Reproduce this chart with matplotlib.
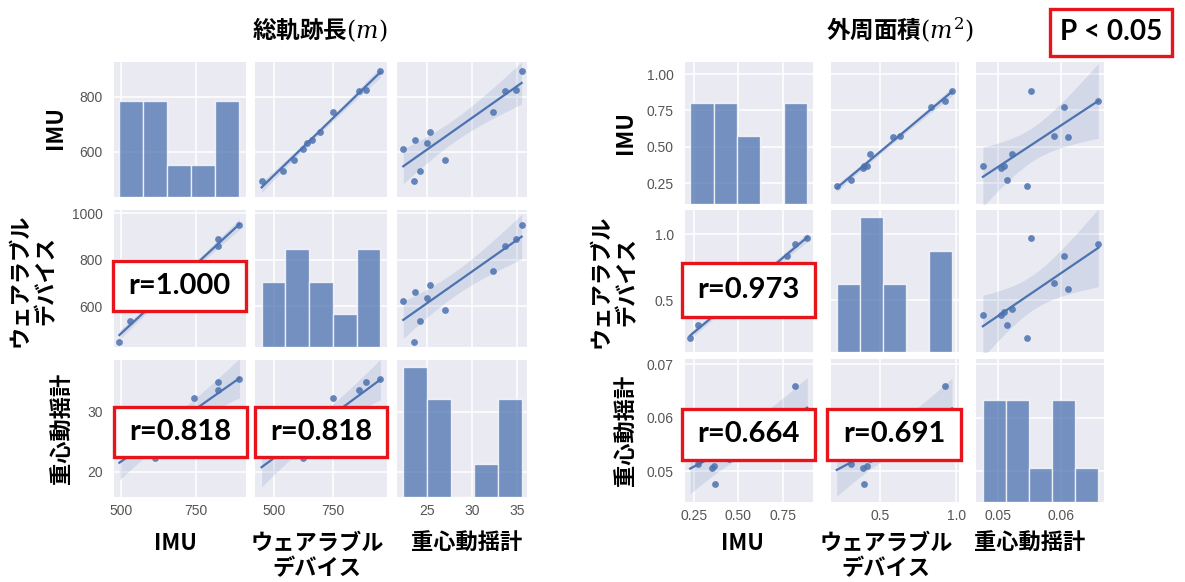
import numpy as np
import matplotlib
matplotlib.use("Agg")
import matplotlib.pyplot as plt
from matplotlib.patches import Rectangle
from matplotlib.ticker import FormatStrFormatter

plt.rcParams["font.family"] = ["Liberation Sans", "Noto Sans CJK JP", "DejaVu Sans"]
plt.rcParams["mathtext.fontset"] = "dejavuserif"

W, H = 1185, 582
BLUE = "#4C72B0"
BG = "#EAEAF2"
RED = "#E8141B"
JP = ["Noto Sans CJK JP", "DejaVu Sans"]
T_CRIT = 2.262  # t(0.975, df=9)

LABELS = ["IMU", "ウェアラブル\nデバイス", "重心動揺計"]

# ── 総軌跡長 (m) ──────────────────────────────────────────────────────────────
path_imu  = [494, 531, 570, 612, 634, 643, 673, 744, 823, 825, 895]
path_wear = [446, 536, 584, 623, 637, 660, 692, 750, 860, 888, 950]
path_cop  = [23.5, 24.2, 26.9, 22.3, 25.0, 23.6, 25.3, 32.3, 33.6, 34.9, 35.5]
path_r    = ["r=1.000", "r=0.818", "r=0.818"]

path_xticks = [[500, 750], [500, 750], [25, 30, 35]]
path_yticks = [[600, 800], [600, 800, 1000], [20, 30]]
path_xfmt   = ["%d", "%d", "%d"]
path_yfmt   = ["%d", "%d", "%d"]

# ── 外周面積 (m^2) ────────────────────────────────────────────────────────────
area_cop  = [0.0476, 0.0505, 0.0510, 0.0514, 0.0523, 0.0547, 0.0553, 0.0590, 0.0605, 0.0611, 0.0660]
area_imu  = [0.370, 0.355, 0.365, 0.274, 0.449, 0.231, 0.886, 0.574, 0.771, 0.567, 0.818]
area_wear = [0.390, 0.387, 0.408, 0.308, 0.434, 0.211, 0.973, 0.632, 0.837, 0.585, 0.929]
area_r    = ["r=0.973", "r=0.664", "r=0.691"]

area_xticks = [[0.25, 0.50, 0.75], [0.5, 1.0], [0.05, 0.06]]
area_yticks = [[0.25, 0.50, 0.75, 1.00], [0.5, 1.0], [0.05, 0.06, 0.07]]
area_xfmt   = ["%.2f", "%.1f", "%.2f"]
area_yfmt   = ["%.2f", "%.1f", "%.2f"]

# layout (pixels)
LEFT = dict(cols=[(114, 246), (255, 387), (397, 527)],
            rows=[(62, 197), (210, 347), (360, 497)],
            xlims=[(476, 917), (418, 978), (21.6, 36.1)],
            ylims=[(436, 927), (424, 1014), (15.8, 38.6)])
RIGHT = dict(cols=[(685, 813), (831, 959), (976, 1104)],
             rows=[(62, 204), (210, 352), (359, 502)],
             xlims=[(0.202, 0.918), (0.173, 1.019), (0.0465, 0.0669)],
             ylims=[(0.106, 1.083), (0.106, 1.184), (0.0442, 0.0710)])


def px_axes(fig, x0, x1, y0, y1):
    return fig.add_axes([x0 / W, 1 - y1 / H, (x1 - x0) / W, (y1 - y0) / H])


def regline(ax, x, y):
    x = np.asarray(x, float)
    y = np.asarray(y, float)
    n = len(x)
    b, a = np.polyfit(x, y, 1)
    grid = np.linspace(x.min(), x.max(), 100)
    fit = a + b * grid
    s = np.sqrt(np.sum((y - (a + b * x)) ** 2) / (n - 2))
    sxx = np.sum((x - x.mean()) ** 2)
    half = T_CRIT * s * np.sqrt(1 / n + (grid - x.mean()) ** 2 / sxx)
    ax.fill_between(grid, fit - half, fit + half, color=BLUE, alpha=0.15, lw=0)
    ax.plot(grid, fit, color=BLUE, lw=1.6)
    ax.scatter(x, y, s=24, color=BLUE, alpha=0.85, lw=0, zorder=3)


def pair_grid(fig, data, lay, xticks, yticks, xfmt, yfmt):
    for i in range(3):
        for j in range(3):
            ax = px_axes(fig, *lay["cols"][j], *lay["rows"][i])
            ax.set_facecolor(BG)
            for sp in ax.spines.values():
                sp.set_visible(False)
            ax.set_axisbelow(True)
            ax.grid(True, color="white", lw=1.1)
            ax.set_xlim(lay["xlims"][j])
            ax.set_ylim(lay["ylims"][i])
            ax.set_xticks(xticks[j])
            ax.set_yticks(yticks[i])
            ax.xaxis.set_major_formatter(FormatStrFormatter(xfmt[j]))
            ax.yaxis.set_major_formatter(FormatStrFormatter(yfmt[i]))
            ax.tick_params(length=0, labelsize=10, labelcolor="#555555")
            ax.tick_params(axis="y", pad=8)
            ax.tick_params(axis="x", pad=5)
            if j != 0:
                ax.tick_params(labelleft=False)
            if i != 2:
                ax.tick_params(labelbottom=False)

            if i == j:
                tw = ax.twinx()
                tw.hist(data[j], bins=5, color=BLUE, alpha=0.75,
                        edgecolor="white", linewidth=1)
                tw.set_ylim(0, 4.2)
                tw.set_yticks([])
                for sp in tw.spines.values():
                    sp.set_visible(False)
            else:
                regline(ax, data[j], data[i])


def red_box(fig, x0, x1, y0, y1, text, size=21, weight="bold"):
    fig.add_artist(Rectangle((x0 / W, 1 - y1 / H), (x1 - x0) / W, (y1 - y0) / H,
                             transform=fig.transFigure, facecolor="white",
                             edgecolor=RED, lw=2.4, zorder=10))
    fig.text((x0 + x1) / 2 / W, 1 - (y0 + y1) / 2 / H, text, ha="center",
             va="center", fontsize=size, fontweight=weight, zorder=11,
             family=["Lato", "DejaVu Sans"])


def labels(fig, row_x, row_y, col_x, col_y):
    for k, lab in enumerate(LABELS):
        fig.text(row_x[k] / W, 1 - row_y[k] / H, lab, rotation=90, ha="center",
                 va="center", ma="center", fontsize=16, fontweight="bold",
                 family=JP, linespacing=1.15)
        fig.text(col_x[k] / W, 1 - col_y / H, lab, ha="center", va="top",
                 ma="center", fontsize=16, fontweight="bold", family=JP,
                 linespacing=1.15)


fig = plt.figure(figsize=(W / 100, H / 100), dpi=100)

pair_grid(fig, [path_imu, path_wear, path_cop], LEFT,
          path_xticks, path_yticks, path_xfmt, path_yfmt)
pair_grid(fig, [area_imu, area_wear, area_cop], RIGHT,
          area_xticks, area_yticks, area_xfmt, area_yfmt)

labels(fig, [55, 33, 62], [128, 280, 428], [175, 317, 467], 532)
labels(fig, [626, 614, 626], [133, 281, 430], [742, 886, 1030], 532)

fig.text(320 / W, 1 - 30 / H, "総軌跡長$(m)$", ha="center", va="center",
         fontsize=17, fontweight="bold", family=JP)
fig.text(900 / W, 1 - 30 / H, "外周面積$(m^2)$", ha="center", va="center",
         fontsize=17, fontweight="bold", family=JP)

red_box(fig, 113, 246, 261, 311, path_r[0])
red_box(fig, 114, 247, 407, 457, path_r[1])
red_box(fig, 255, 387, 407, 457, path_r[2])
red_box(fig, 682, 815, 263, 317, area_r[0])
red_box(fig, 682, 815, 409, 460, area_r[1])
red_box(fig, 827, 961, 409, 460, area_r[2])
red_box(fig, 1050, 1172, 9, 56, "P < 0.05", size=20)

fig.savefig("out.png", dpi=100)
